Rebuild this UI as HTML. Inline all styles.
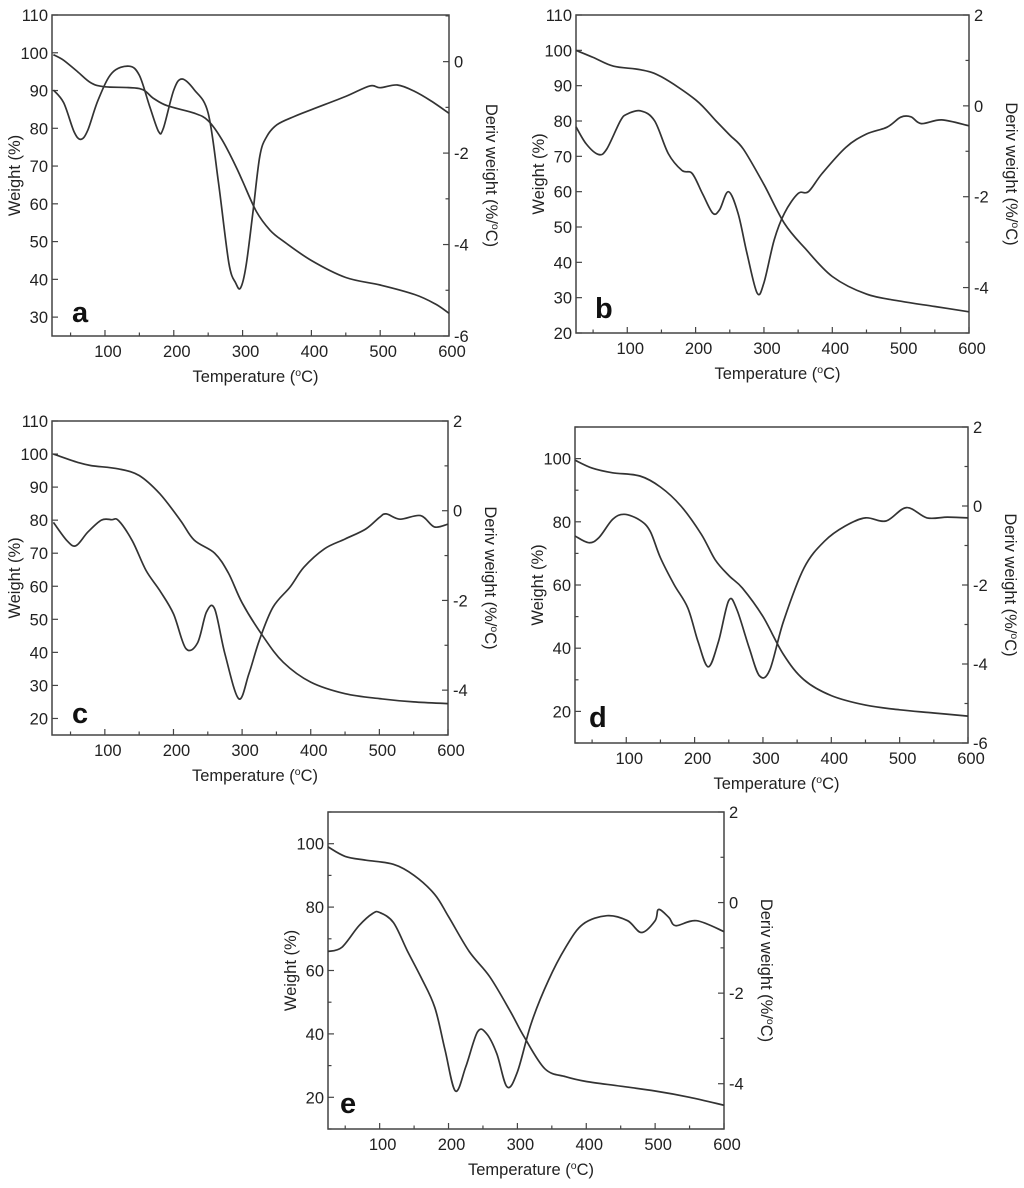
<!DOCTYPE html>
<html><head><meta charset="utf-8"><style>
html,body{margin:0;padding:0;background:#fff;}
svg{display:block;font-family:"Liberation Sans",Arial,sans-serif;}
</style></head><body>
<svg id="fig" width="1024" height="1188" viewBox="0 0 1024 1188"></svg>
<script>
// ---- data: temperatures (°C) and values ----
const tempWA = [25,40,60,80,100,150,170,190,230,250,270,290,300,320,340,360,400,450,500,550,580,600];
const weightA = [99.5,98,95,92,91,90.5,88,86,84,82,77,70,66,58,53,50,45,40.5,38.5,36,33.5,31];
const tempDA = [25,40,55,65,75,90,110,135,150,165,178,185,200,212,230,250,265,280,290,297,305,315,325,335,350,375,400,450,485,500,525,550,575,600];
const derivA = [-0.62,-0.9,-1.53,-1.7,-1.5,-0.84,-0.25,-0.1,-0.3,-0.98,-1.53,-1.45,-0.62,-0.38,-0.62,-1.13,-2.65,-4.4,-4.84,-4.95,-4.47,-3.3,-2.07,-1.64,-1.38,-1.2,-1.05,-0.76,-0.53,-0.57,-0.51,-0.65,-0.87,-1.13];

const tempWB = [25,50,80,120,150,200,230,250,270,300,330,360,400,450,500,550,600];
const weightB = [100,98,95.5,94.5,92.5,86,80,76,72,62,51,44,36,31,29,27.5,26];
const tempDB = [25,40,58,70,90,100,120,140,160,180,195,210,225,235,248,262,275,290,300,315,330,350,365,385,420,450,480,500,515,530,560,600];
const derivB = [-0.46,-0.84,-1.07,-0.95,-0.33,-0.18,-0.11,-0.33,-1.05,-1.42,-1.49,-1.93,-2.36,-2.29,-1.89,-2.36,-3.24,-4.12,-3.89,-2.95,-2.36,-1.93,-1.89,-1.49,-0.91,-0.62,-0.47,-0.25,-0.24,-0.39,-0.31,-0.44];

const tempWC = [25,60,80,120,150,180,210,230,260,280,300,330,360,400,450,500,550,600];
const weightC = [100,97.5,96.5,95.5,93.5,88,80,74,70,64,55,45,37,31,27.5,26,25,24.5];
const tempDC = [25,45,58,75,95,110,120,140,160,180,200,218,235,248,260,275,295,310,325,345,370,390,420,450,480,500,510,530,560,580,600];
const derivC = [-0.26,-0.67,-0.78,-0.48,-0.21,-0.2,-0.22,-0.67,-1.33,-1.78,-2.3,-3.07,-2.95,-2.26,-2.19,-3.19,-4.19,-3.63,-2.89,-2.15,-1.7,-1.26,-0.85,-0.63,-0.41,-0.15,-0.07,-0.19,-0.11,-0.36,-0.3];

const tempWD = [25,50,80,120,150,180,210,230,250,270,300,330,360,400,450,500,550,600];
const weightD = [99.5,97,95.5,94.5,91,85,76,68,63,59,50,38,30,25,22,20.5,19.5,18.5];
const tempDD = [25,45,60,80,97,120,135,150,170,190,205,220,235,250,262,280,295,310,330,360,390,420,450,480,510,540,570,600];
const derivD = [-0.76,-0.93,-0.8,-0.34,-0.21,-0.36,-0.64,-1.31,-1.99,-2.58,-3.43,-4.07,-3.43,-2.39,-2.63,-3.6,-4.3,-4.15,-2.92,-1.57,-0.89,-0.51,-0.3,-0.38,-0.04,-0.3,-0.28,-0.3];

const tempWE = [25,50,80,120,150,180,200,230,260,290,310,340,370,400,450,500,550,600];
const weightE = [99,96,94.8,93.5,90,84,77,66,58,47,39,29,26.5,25,23.5,22,20,17.5];
const tempDE = [25,45,70,90,100,120,140,160,180,195,210,225,242,255,270,285,300,320,345,370,395,430,460,480,500,505,520,530,560,600];
const derivE = [-1.08,-0.99,-0.51,-0.24,-0.22,-0.44,-1.06,-1.65,-2.31,-3.26,-4.16,-3.63,-2.86,-2.89,-3.33,-4.07,-3.74,-2.67,-1.72,-0.99,-0.48,-0.29,-0.4,-0.66,-0.4,-0.15,-0.33,-0.51,-0.4,-0.64];

const xTickLabels = [100,200,300,400,500,600];

const NS='http://www.w3.org/2000/svg';
const svg=document.getElementById('fig');
const FS=16.5;
function mk(tag,attrs,parent){const e=document.createElementNS(NS,tag);for(const k in attrs)e.setAttribute(k,attrs[k]);(parent||svg).appendChild(e);return e;}
function smooth(pts){
  let d='M'+pts[0][0].toFixed(1)+','+pts[0][1].toFixed(1);
  for(let i=0;i<pts.length-1;i++){
    const p0=pts[i-1]||pts[i],p1=pts[i],p2=pts[i+1],p3=pts[i+2]||p2;
    const c1=[p1[0]+(p2[0]-p0[0])/6,p1[1]+(p2[1]-p0[1])/6];
    const c2=[p2[0]-(p3[0]-p1[0])/6,p2[1]-(p3[1]-p1[1])/6];
    d+=' C'+c1[0].toFixed(1)+','+c1[1].toFixed(1)+' '+c2[0].toFixed(1)+','+c2[1].toFixed(1)+' '+p2[0].toFixed(1)+','+p2[1].toFixed(1);
  }
  return d;
}
function panel(p){
  const g=mk('g',{});
  
  
  const X=t=>p.l+(t-p.x0)/(p.x1-p.x0)*(p.r-p.l);
  const YL=v=>p.b-(v-p.y0)/(p.y1-p.y0)*(p.b-p.t);
  const YR=v=>p.b-(v-p.d0)/(p.d1-p.d0)*(p.b-p.t);
  const fr=mk('rect',{x:p.l,y:p.t,width:p.r-p.l,height:p.b-p.t,fill:'none',stroke:'#444','stroke-width':1.5},g);
  
  
  for(let t=50;t<=600;t+=50){
    if(t<p.x0)continue;
    const L=(t%100===0)?6:3.5;
    mk('line',{x1:X(t),x2:X(t),y1:p.b,y2:p.b-L,stroke:'#444','stroke-width':1.2},g);
  }
  xTickLabels.forEach(t=>{
    const tx=mk('text',{x:X(t)+3,y:p.b+21,'text-anchor':'middle','font-size':FS,fill:'#222'},g);
    tx.textContent=t;
    
    
  });
  for(let v=Math.ceil(p.y0/10)*10;v<=p.y1;v+=10){
    const major=(v%p.ly===0);
    mk('line',{x1:p.l,x2:p.l+(major?6:3.5),y1:YL(v),y2:YL(v),stroke:'#444','stroke-width':1.2},g);
    if(major&&v>=p.lmin&&v<=p.lmax){
      const tx=mk('text',{x:p.l-4,y:YL(v)+6,'text-anchor':'end','font-size':FS,fill:'#222'},g);
      tx.textContent=v;
      
      
    }
  }
  for(let v=Math.ceil(p.d0);v<=p.d1;v+=1){
    const major=(Math.abs(v)%2===0);
    mk('line',{x1:p.r,x2:p.r-(major?6:3.5),y1:YR(v),y2:YR(v),stroke:'#444','stroke-width':1.2},g);
    if(major){
      const tx=mk('text',{x:p.r+5,y:YR(v)+6,'text-anchor':'start','font-size':FS,fill:'#222'},g);
      tx.textContent=(v<0?'-':'')+Math.abs(v);
      
      
    }
  }
  const cy=(p.t+p.b)/2;
  const yl=mk('text',{x:0,y:0,transform:`translate(${p.l-32},${cy}) rotate(-90)`,'text-anchor':'middle','font-size':FS,fill:'#222'},g);
  yl.textContent='Weight (%)';
  
  
  const yr=mk('text',{x:0,y:0,transform:`translate(${p.r+37},${cy}) rotate(90)`,'text-anchor':'middle','font-size':FS,fill:'#222'},g);
  yr.innerHTML='Deriv weight (%/<tspan font-size="10.5" dy="-6">o</tspan><tspan dy="6">C)</tspan>';
  
  
  const xl=mk('text',{x:(p.l+p.r)/2+5,y:p.b+46,'text-anchor':'middle','font-size':FS,fill:'#222'},g);
  xl.innerHTML='Temperature (<tspan font-size="10.5" dy="-6">o</tspan><tspan dy="6">C)</tspan>';
  
  
  const lab=mk('text',{x:p.lx,y:p.ly2,'font-size':29,'font-weight':'bold',fill:'#111'},g);
  lab.textContent=p.id;
  
  
  const w=mk('path',{d:smooth(p.tw.map((t,i)=>[X(t),YL(p.w[i])])),fill:'none',stroke:'#333','stroke-width':1.7},g);
  
  
  const d=mk('path',{d:smooth(p.td.map((t,i)=>[X(t),YR(p.dv[i])])),fill:'none',stroke:'#333','stroke-width':1.7},g);
  
  
}
panel({id:'a',l:52,r:449,t:15,b:336,x0:23,x1:600,y0:25,y1:110,d0:-6,d1:1.02,ly:10,lmin:30,lmax:110,lx:72,ly2:322,tw:tempWA,w:weightA,td:tempDA,dv:derivA});
panel({id:'b',l:576,r:969,t:15,b:333,x0:25,x1:600,y0:20,y1:110,d0:-5,d1:2,ly:10,lmin:20,lmax:110,lx:595,ly2:318,tw:tempWB,w:weightB,td:tempDB,dv:derivB});
panel({id:'c',l:52,r:448,t:421,b:735,x0:23,x1:600,y0:15,y1:110,d0:-5,d1:2,ly:10,lmin:20,lmax:110,lx:72,ly2:723,tw:tempWC,w:weightC,td:tempDC,dv:derivC});
panel({id:'d',l:575,r:968,t:427,b:743,x0:25,x1:600,y0:10,y1:110,d0:-6,d1:2,ly:20,lmin:20,lmax:100,lx:589,ly2:727,tw:tempWD,w:weightD,td:tempDD,dv:derivD});
panel({id:'e',l:328,r:724,t:812,b:1129,x0:25,x1:600,y0:10,y1:110,d0:-5,d1:2,ly:20,lmin:20,lmax:100,lx:340,ly2:1113,tw:tempWE,w:weightE,td:tempDE,dv:derivE});
</script>
</body></html>
